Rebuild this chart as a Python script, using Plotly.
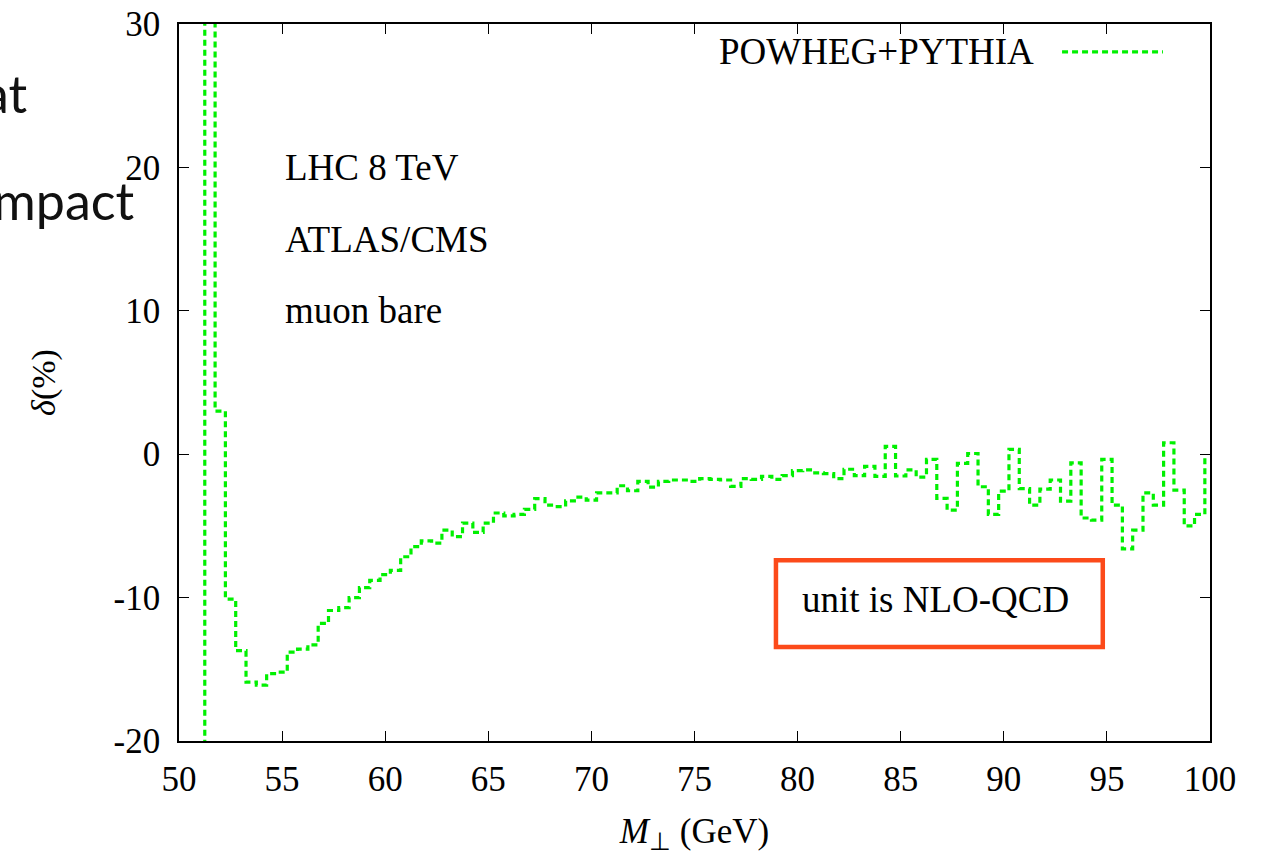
import numpy as np
import plotly.graph_objects as go

# ---- data (bin centres 50.0 ... 99.5 GeV, width 0.5) ----
bin_width = 0.5
bin_centers = np.arange(50.0, 100.0, bin_width)
delta_powheg = [
    -45, -45, -45, 60, 3.0, -10.1, -13.7, -15.9, -16.1, -15.3,
    -15.2, -13.8, -13.6, -13.3, -11.8, -10.9, -10.7, -10.0, -9.3, -8.8,
    -8.4, -8.1, -7.15, -6.45, -6.05, -6.2, -5.3, -5.75, -4.8, -5.45,
    -4.8, -4.1, -4.3, -4.2, -3.85, -3.1, -3.55, -3.65, -3.25, -3.0,
    -3.2, -2.7, -2.7, -2.2, -2.55, -1.9, -2.3, -1.9, -1.8, -1.8,
    -1.9, -1.7, -1.75, -1.8, -2.25, -1.7, -1.75, -1.55, -1.75, -1.5,
    -1.15, -1.1, -1.3, -1.35, -1.7, -1.05, -1.5, -0.85, -1.55, 0.55,
    -1.52, -1.1, -1.6, -0.36, -3.08, -3.9, -0.64, 0.05, -2.27, -4.2,
    -2.57, 0.34, -2.4, -3.55, -2.43, -1.8, -3.27, -0.6, -4.45, -4.6,
    -0.36, -3.55, -6.6, -5.3, -2.7, -3.55, 0.8, -2.5, -5.0, -4.2,
]
assert len(delta_powheg) == len(bin_centers)

x_ticks = [50, 55, 60, 65, 70, 75, 80, 85, 90, 95, 100]
y_ticks = [-20, -10, 0, 10, 20, 30]
y_ticktext = ["-20", "-10", "0", "10", "20", "30"]
series_name = "POWHEG+PYTHIA"
info_lines = ["LHC 8 TeV", "ATLAS/CMS", "muon bare"]
info_y = [20.0, 15.0, 10.0]
box_text = "unit is NLO-QCD"

# ---- gnuplot-style histeps path built from the bins ----
vals = np.array(delta_powheg, dtype=float)
left = bin_centers - bin_width / 2
right_end = bin_centers[-1] + bin_width / 2
xs = np.concatenate([[left[0]], left, [right_end, right_end]])
ys = np.concatenate([[0.0], vals, [vals[-1], 0.0]])

GREEN = "#00f000"
FONT = "Liberation Serif"
LW = 3.2
DASH = "6px,4px"

fig = go.Figure()
fig.add_trace(go.Scatter(
    x=xs, y=ys, mode="lines", line_shape="hv",
    line=dict(color=GREEN, width=LW, dash=DASH),
    name=series_name, showlegend=False,
))

axis_common = dict(
    showline=True, linecolor="black", linewidth=1.6, mirror="ticks",
    ticks="inside", ticklen=10, tickwidth=1.3, tickcolor="black",
    showgrid=False, zeroline=False, automargin=False,
    tickfont=dict(family=FONT, size=35, color="black"),
)

fig.update_xaxes(range=[50, 100], tickvals=x_ticks, ticklabelstandoff=6,
                 title=dict(text="<i>M</i><sub>⊥</sub> (GeV)",
                            font=dict(family=FONT, size=35, color="black"),
                            standoff=24),
                 **axis_common)
fig.update_yaxes(range=[-20, 30], tickvals=y_ticks, ticktext=y_ticktext,
                 ticklabelstandoff=10,
                 title=dict(text="<i>δ</i>(%)",
                            font=dict(family=FONT, size=34, color="black"),
                            standoff=48),
                 **axis_common)

annotations = []
for t, yv in zip(info_lines, info_y):
    annotations.append(dict(x=55.05, y=yv, xref="x", yref="y", text=t,
                            showarrow=False, xanchor="left", yanchor="middle",
                            font=dict(family=FONT, size=37, color="black")))
annotations.append(dict(x=86.7, y=-10.1, xref="x", yref="y", text=box_text,
                        showarrow=False, xanchor="center", yanchor="middle",
                        font=dict(family=FONT, size=37, color="black")))
# legend entry (text left of sample line, gnuplot style)
annotations.append(dict(x=0.8312, y=0.961, xref="paper", yref="paper",
                        text=series_name, showarrow=False,
                        xanchor="right", yanchor="middle",
                        font=dict(family=FONT, size=37, color="black")))
# slide text fragments behind the plot
annotations.append(dict(x=-0.145, y=0.904, xref="paper", yref="paper",
                        text="at", showarrow=False, xanchor="right",
                        yanchor="middle",
                        font=dict(family="Lato", size=52, color="#111111")))
annotations.append(dict(x=-0.0405, y=0.755, xref="paper", yref="paper",
                        text="mpact", showarrow=False, xanchor="right",
                        yanchor="middle",
                        font=dict(family="Lato", size=52, color="#111111")))

shapes = [
    dict(type="line", xref="paper", yref="paper", x0=0.8565, x1=0.9544,
         y0=0.961, y1=0.961, line=dict(color=GREEN, width=LW, dash=DASH)),
    dict(type="rect", xref="x", yref="y", x0=78.95, x1=94.8, y0=-13.45,
         y1=-7.4, line=dict(color="#fc4a1a", width=4.5)),
]

fig.update_layout(
    width=1264, height=855,
    margin=dict(l=179, r=54, t=24, b=114, autoexpand=False),
    paper_bgcolor="white", plot_bgcolor="white",
    annotations=annotations, shapes=shapes,
    showlegend=False,
)

fig.write_html("out.html")
